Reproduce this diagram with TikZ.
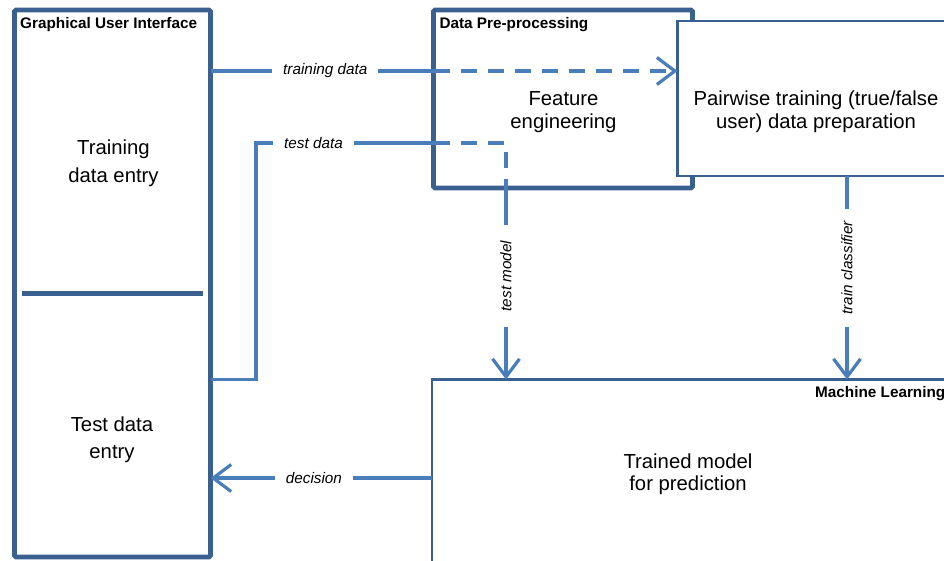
\documentclass[tikz,border=0pt]{standalone}
\usepackage{fontspec}
\setmainfont{Liberation Sans}
\usetikzlibrary{arrows.meta}
\definecolor{boxc}{RGB}{58,96,144}
\definecolor{linec}{RGB}{74,126,187}
\begin{document}
\begin{tikzpicture}[x=1pt,y=-1pt,
  box/.style={draw=boxc, fill=white, inner sep=0pt, outer sep=0pt},
  thickbox/.style={box, line width=4.7pt, rounded corners=1.5pt},
  thinbox/.style={box, line width=2.2pt},
  maintext/.style={font=\fontsize{20.3}{22.5}\selectfont, align=center, inner sep=0pt, anchor=north},
  ttl/.style={font=\fontsize{15.3}{18}\selectfont\bfseries, inner sep=0pt, anchor=base west},
  lbl/.style={font=\fontsize{15.3}{18}\selectfont\itshape, fill=white, inner xsep=11pt, inner ysep=3pt},
  conn/.style={draw=linec, line width=3.2pt},
  dconn/.style={conn, dash pattern=on 16pt off 11pt},
  tip/.style={-{Straight Barb[length=18pt,width=27pt]}}
]
\useasboundingbox (0,0) rectangle (944,560);
\clip (0,0) rectangle (944,560);

% boxes
\node[thickbox, minimum width=196pt, minimum height=547pt] (gui) at (112.5,283.5) {};
\node[thickbox, minimum width=259pt, minimum height=178pt] (dpp) at (563,99) {};
\node[thinbox, minimum width=277pt, minimum height=155pt] (pw) at (816,98.5) {};
\node[thinbox, minimum width=518pt, minimum height=221pt] (ml) at (691,490) {};

% GUI divider
\coordinate (divL) at (22,293.5);
\coordinate (divR) at (203,293.5);
\draw[boxc, line width=5pt] (divL) -- (divR);

% titles
\node[ttl] (guiT) at (20,28) {Graphical User Interface};
\node[ttl] (dppT) at (439.3,28) {Data Pre-processing};
\node[ttl] (mlT) at (815,397) {Machine Learning};

% main texts
\node[maintext, font=\fontsize{20.3}{28}\selectfont] (trT) at (113.5,140) {Training\\data entry};
\node[maintext, font=\fontsize{20.3}{26.5}\selectfont] (teT) at (112,417) {Test data\\entry};
\node[maintext] (feT) at (563.5,91.7) {Feature\\engineering};
\node[maintext] (pwT) at (816,90.7) {Pairwise training (true/false\\user) data preparation};
\node[maintext, font=\fontsize{20.3}{22}\selectfont] (tmT) at (688,454) {Trained model\\for prediction};

% training data
\draw[conn] (gui.east |- 0,71) -- node[lbl, pos=0.515]{training data} (dpp.west |- 0,71);
\draw[dconn, tip] (dpp.west |- 0,71) -- (pw.west |- 0,71);

% test data / test model
\coordinate (tdK) at (256,379.5);
\coordinate (tmK) at (506,143);
\draw[conn, line join=miter] (gui.east |- tdK) -- (tdK) -- (tdK |- tmK) -- node[lbl, pos=0.324]{test data} (dpp.west |- tmK);
\draw[dconn, line join=miter] (dpp.west |- tmK) -- (tmK) -- (tmK |- dpp.south);
\draw[conn, tip] (tmK |- dpp.south) -- node[lbl, rotate=90, inner xsep=16pt, pos=0.46]{test model} (tmK |- ml.north);

% train classifier
\coordinate (tcK) at (847,0);
\draw[conn, tip] (pw.south -| tcK) -- node[lbl, rotate=90, inner xsep=12pt, pos=0.452]{train classifier} (ml.north -| tcK);

% decision
\draw[conn, tip] (ml.west |- 0,478) -- node[lbl, pos=0.533]{decision} (gui.east |- 0,478);
\end{tikzpicture}
\end{document}
